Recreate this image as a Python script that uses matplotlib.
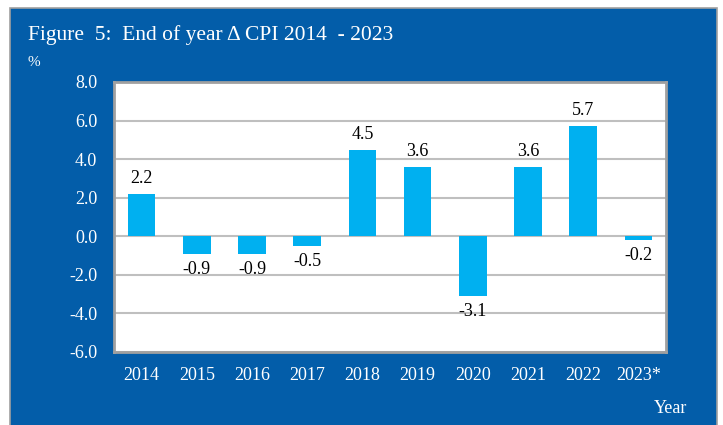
import matplotlib
matplotlib.use("Agg")
import matplotlib.pyplot as plt
from matplotlib.patches import Rectangle

years = ["2014", "2015", "2016", "2017", "2018", "2019", "2020", "2021", "2022", "2023*"]
cpi = [2.2, -0.9, -0.9, -0.5, 4.5, 3.6, -3.1, 3.6, 5.7, -0.2]
yticks = [-6.0, -4.0, -2.0, 0.0, 2.0, 4.0, 6.0, 8.0]

BLUE = "#035DA9"
BAR = "#00B0F0"
plt.rcParams["font.family"] = ["Liberation Serif", "DejaVu Serif"]

W, H = 723, 425
fig = plt.figure(figsize=(W / 100, H / 100), dpi=100)
fig.patch.set_facecolor("white")
fig.patches.append(Rectangle((10 / W, -0.05), 707 / W, 1.05 - 8 / H, transform=fig.transFigure,
                             facecolor=BLUE, edgecolor="#A0A0A0", linewidth=1.2, zorder=-5))

ax = fig.add_axes([114 / W, 1 - 352 / H, 552 / W, 270 / H])
ax.set_zorder(5)
ax.set_facecolor("white")
x = list(range(len(years)))
ax.bar(x, cpi, width=0.5, color=BAR, zorder=3)
ax.set_xlim(-0.5, len(years) - 0.5)
ax.set_ylim(-6, 8)
ax.set_yticks(yticks)
ax.set_yticklabels([f"{v:.1f}" for v in yticks])
ax.set_xticks(x)
ax.set_xticklabels(years)
ax.tick_params(axis="both", length=0, colors="white", labelsize=13)
ax.tick_params(axis="y", pad=12)
ax.tick_params(axis="x", pad=11)
ax.grid(axis="y", color="#BFBFBF", linewidth=1.5, zorder=1)
for s in ax.spines.values():
    s.set_color("#A0A0A0")
    s.set_linewidth(2)

for xi, v in zip(x, cpi):
    if v >= 0:
        ax.annotate(f"{v:.1f}", (xi, v), xytext=(0, 5), textcoords="offset points",
                    ha="center", va="bottom", fontsize=13, color="black", zorder=4)
    else:
        ax.annotate(f"{v:.1f}", (xi, v), xytext=(0, -5), textcoords="offset points",
                    ha="center", va="top", fontsize=13, color="black", zorder=4)

fig.text(28 / W, 1 - 40 / H, "Figure  5:  End of year Δ CPI 2014  - 2023", color="white",
         fontsize=15.5, ha="left", va="baseline", zorder=6)
fig.text(28 / W, 1 - 66 / H, "%", color="white", fontsize=11, ha="left", va="baseline", zorder=6)
fig.text(687 / W, 1 - 413 / H, "Year", color="white", fontsize=13, ha="right", va="baseline", zorder=6)

fig.savefig("out.png", dpi=100)
